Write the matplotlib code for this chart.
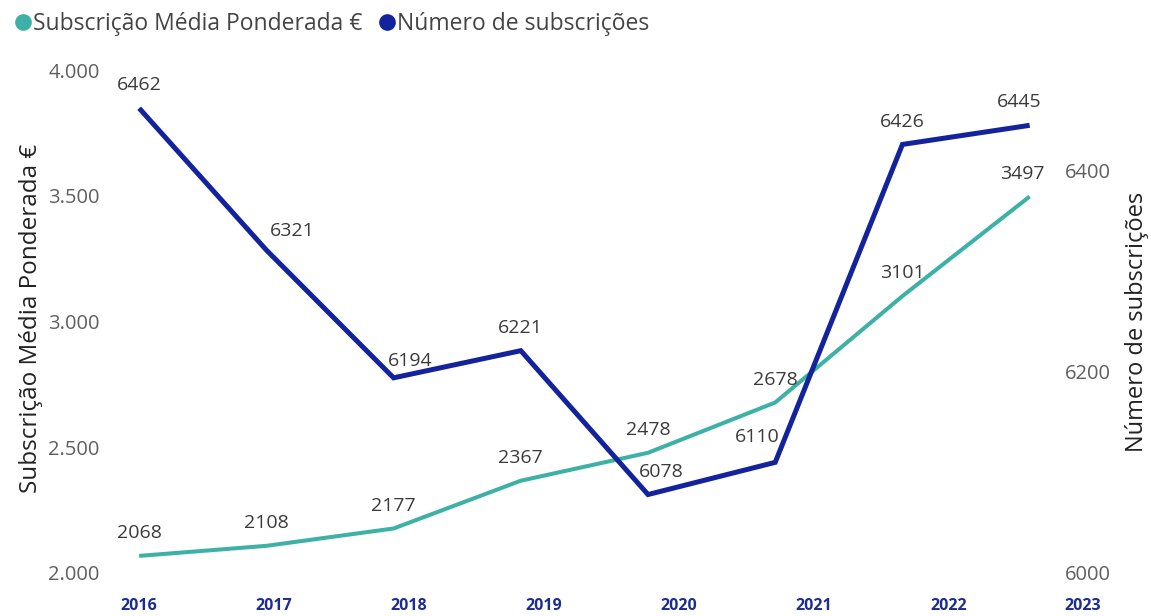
import matplotlib
matplotlib.use("Agg")
import matplotlib.pyplot as plt
from matplotlib.lines import Line2D

plt.rcParams['font.family'] = ['Open Sans', 'DejaVu Sans']

# ===================== 数据 =====================
years = ['2016', '2017', '2018', '2019', '2020', '2021', '2022', '2023']
media_ponderada = [2068, 2108, 2177, 2367, 2478, 2678, 3101, 3497]
num_subscricoes = [6462, 6321, 6194, 6221, 6078, 6110, 6426, 6445]
left_ticks = [2000, 2500, 3000, 3500, 4000]
right_ticks = [6000, 6200, 6400]

# ===================== 样式 =====================
TEAL = '#3DB1A5'
NAVY = '#13239C'
LABEL_C = '#3a3a3a'
TICK_C = '#5f5f5f'
YEAR_C = '#1b2d8f'
STRETCH = 1.06  # year labels are spread a bit wider than the points

# label nudges (px) where the original shifts labels off the lines
nudge_teal = {7: (-7, 0)}
nudge_navy = {1: (26, -4), 2: (17, -6), 4: (13, 0), 5: (-18, 2), 7: (-10, 0)}

fig = plt.figure(figsize=(11.51, 6.16), dpi=100)
W, H = 1151, 616
ax = fig.add_axes([115 / W, 1 - 573 / H, (1050 - 115) / W, (573 - 70) / H])
ax2 = ax.twinx()

x = list(range(len(years)))
ax.plot(x, media_ponderada, color=TEAL, lw=2.9, solid_capstyle='butt', zorder=2)
ax2.plot(x, num_subscricoes, color=NAVY, lw=3.6, solid_capstyle='butt',
         solid_joinstyle='miter', zorder=3)

ax.set_xlim(-0.19, 7.16)
ax.set_ylim(2000, 4000)
ax2.set_ylim(6000, 6500)

# data labels
for a, vals, nudge in ((ax, media_ponderada, nudge_teal), (ax2, num_subscricoes, nudge_navy)):
    for i, v in enumerate(vals):
        dx, dy = nudge.get(i, (0, 0))
        a.annotate(f'{v}', (i, v), xytext=(dx * 0.72, 16.5 + dy * 0.72),
                   textcoords='offset points', ha='center', va='center',
                   fontsize=14, color=LABEL_C, zorder=5)

# axes
for a in (ax, ax2):
    for s in a.spines.values():
        s.set_visible(False)
    a.tick_params(length=0, labelsize=14.5, labelcolor=TICK_C, pad=11)
ax.set_xticks([])
ax.set_yticks(left_ticks)
ax.set_yticklabels([f'{t:,}'.replace(',', '.') for t in left_ticks])
ax2.set_yticks(right_ticks)

fig.text(31 / W, 1 - 318 / H, 'Subscrição Média Ponderada €', rotation=90,
         ha='center', va='center', fontsize=17.5, color='#222222')
fig.text(1137 / W, 1 - 322 / H, 'Número de subscrições', rotation=90,
         ha='center', va='center', fontsize=17, color='#222222')

# year labels
for i, yr in enumerate(years):
    ax.text(i * STRETCH, -0.066, yr, transform=ax.get_xaxis_transform(),
            ha='center', va='center', fontsize=11.5, fontweight='bold',
            color=YEAR_C, clip_on=False)

# legend
handles = [Line2D([], [], ls='none', marker='o', ms=11, color=TEAL),
           Line2D([], [], ls='none', marker='o', ms=11, color=NAVY)]
fig.legend(handles, ['Subscrição Média Ponderada €', 'Número de subscrições'],
           loc='upper left', bbox_to_anchor=(15 / W, 1 - 12 / H), ncol=2,
           frameon=False, fontsize=16.5, labelcolor='#444444',
           handlelength=0.7, handletextpad=0.09, columnspacing=0.72,
           borderaxespad=0, borderpad=0)

fig.savefig('out.png', dpi=100, facecolor='white')
